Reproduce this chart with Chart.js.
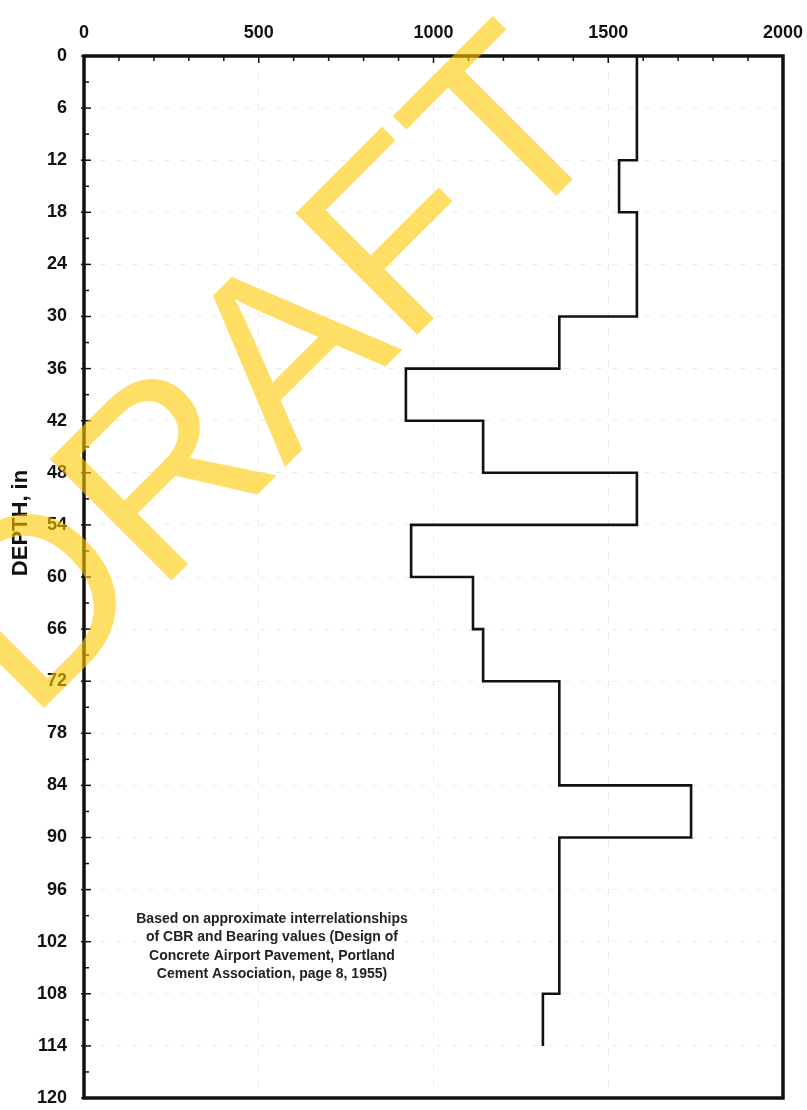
<!DOCTYPE html>
<html>
<head>
<meta charset="utf-8">
<script src="https://cdn.jsdelivr.net/npm/chart.js@4/dist/chart.umd.min.js"></script>
<style>
  body { margin: 0; background: #fff; }
  #wrap { width: 807px; height: 1110px; }
</style>
</head>
<body>
<div id="wrap"><canvas id="bearingChart" width="807" height="1110"></canvas></div>
<script>
// layer tops (in) and bearing value for each layer, last point closes the profile
const depth = [0, 12, 18, 30, 36, 42, 48, 54, 60, 66, 72, 84, 90, 108, 114];
const bearing = [1582, 1531, 1582, 1360, 921, 1142, 1582, 936, 1113, 1142, 1360, 1737, 1360, 1313, 1313];

const xLabels = [0, 500, 1000, 1500, 2000];
const depthLabels = [0, 6, 12, 18, 24, 30, 36, 42, 48, 54, 60, 66, 72, 78, 84, 90, 96, 102, 108, 114, 120];

const yTitle = "DEPTH, in";
const noteLines = [
  "Based on approximate interrelationships",
  "of CBR and Bearing values (Design of",
  "Concrete Airport Pavement, Portland",
  "Cement Association, page 8, 1955)"
];
const watermark = "DRAFT";

const points = depth.map((d, i) => ({ x: bearing[i], y: d }));

const FONT = "'Liberation Sans', Arial, sans-serif";
const faint = "rgba(0,0,0,0.08)";

// frame, inside tick marks, axis title, note and watermark
const extras = {
  id: "extras",
  afterDraw(chart) {
    const ctx = chart.ctx;
    const a = chart.chartArea;
    const xs = chart.scales.x;
    const ys = chart.scales.y;

    ctx.save();
    ctx.strokeStyle = "#111";
    ctx.lineWidth = 1.5;
    xs.ticks.forEach((t) => {
      const px = xs.getPixelForValue(t.value);
      const len = xLabels.includes(t.value) ? 7 : 5;
      ctx.beginPath();
      ctx.moveTo(px, a.top);
      ctx.lineTo(px, a.top + len);
      ctx.stroke();
    });
    ys.ticks.forEach((t) => {
      const py = ys.getPixelForValue(t.value);
      const len = depthLabels.includes(t.value) ? 7 : 5;
      ctx.beginPath();
      ctx.moveTo(a.left - (len === 7 ? 3 : 0), py);
      ctx.lineTo(a.left + len, py);
      ctx.stroke();
    });

    ctx.lineWidth = 3.5;
    ctx.strokeRect(a.left, a.top, a.right - a.left, a.bottom - a.top);

    // y title
    ctx.fillStyle = "#111";
    ctx.font = "bold 22px " + FONT;
    ctx.textAlign = "center";
    ctx.textBaseline = "middle";
    ctx.translate(21, 523);
    ctx.rotate(-Math.PI / 2);
    ctx.fillText(yTitle, 0, 0);
    ctx.restore();

    // note
    ctx.save();
    ctx.fillStyle = "#222";
    ctx.font = "bold 14px " + FONT;
    ctx.textAlign = "center";
    ctx.textBaseline = "middle";
    noteLines.forEach((line, i) => ctx.fillText(line, 272, 919 + i * 18.5));
    ctx.restore();

    // watermark
    ctx.save();
    ctx.fillStyle = "rgba(255,200,0,0.6)";
    ctx.font = "250px " + FONT;
    ctx.textAlign = "center";
    ctx.textBaseline = "alphabetic";
    ctx.translate(324, 428);
    ctx.rotate(-Math.PI / 4);
    ctx.fillText(watermark, 0, 0);
    ctx.restore();
  }
};

new Chart(document.getElementById("bearingChart"), {
  type: "line",
  data: {
    datasets: [{
      data: points,
      borderColor: "#111",
      borderWidth: 2.6,
      pointRadius: 0,
      fill: false,
      stepped: "after",
      tension: 0
    }]
  },
  options: {
    responsive: false,
    animation: false,
    layout: { padding: { left: 0, top: 0, right: 24, bottom: 12 } },
    plugins: {
      legend: { display: false },
      tooltip: { enabled: false }
    },
    scales: {
      x: {
        type: "linear",
        position: "top",
        min: 0,
        max: 2000,
        afterFit: (s) => {
          s.height = 56;
          s.paddingLeft = 0;
          s.paddingRight = 0;
        },
        border: { display: false, dash: [6, 10] },
        grid: {
          drawTicks: false,
          color: (c) => (c.tick && c.tick.value % 500 === 0 && c.tick.value > 0 && c.tick.value < 2000) ? faint : "transparent"
        },
        ticks: {
          stepSize: 100,
          autoSkip: false,
          maxRotation: 0,
          padding: 12,
          color: "#111",
          font: { family: FONT, size: 18, weight: "bold" },
          callback: (v) => (xLabels.includes(v) ? String(v) : "")
        }
      },
      y: {
        type: "linear",
        reverse: true,
        min: 0,
        max: 120,
        afterFit: (s) => {
          s.width = 84;
          s.paddingTop = 0;
          s.paddingBottom = 0;
        },
        border: { display: false, dash: [6, 10] },
        grid: {
          drawTicks: false,
          color: (c) => (c.tick && c.tick.value % 6 === 0 && c.tick.value > 0 && c.tick.value < 120) ? faint : "transparent"
        },
        ticks: {
          stepSize: 3,
          autoSkip: false,
          padding: 17,
          color: "#111",
          font: { family: FONT, size: 18, weight: "bold" },
          callback: (v) => (depthLabels.includes(v) ? String(v) : "")
        }
      }
    }
  },
  plugins: [extras]
});
</script>
</body>
</html>
